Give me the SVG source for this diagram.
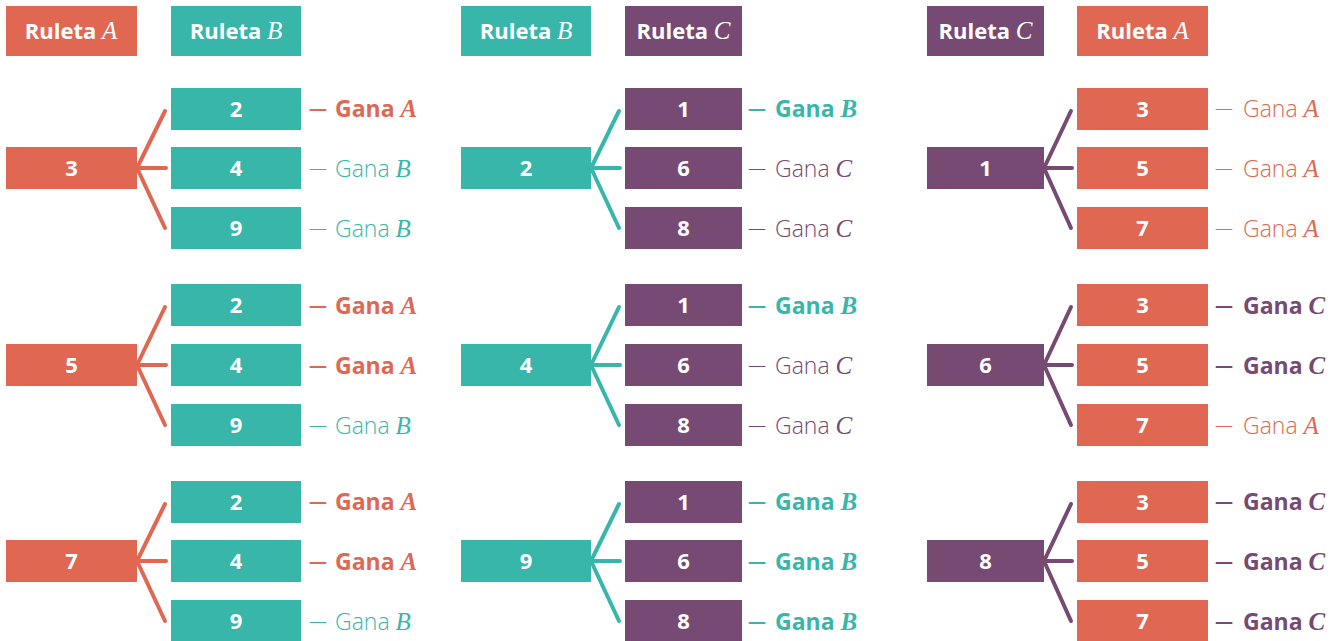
<svg xmlns="http://www.w3.org/2000/svg" width="1343" height="641" viewBox="0 0 1343 641">
<style>
.o{fill:#E06853}.t{fill:#38B6AA}.p{fill:#774A73}
.bx text,.hd text{fill:#fff;font-family:"Open Sans",Lato,sans-serif;font-weight:700;font-size:22px;text-anchor:middle}
.hd tspan.i{font-family:"Liberation Serif",serif;font-style:italic;font-weight:400;font-size:25px}
.lb{font-family:"Open Sans",Lato,sans-serif;font-size:23px}
.lb.b{font-weight:700}.lb.l{font-weight:300}
.lb tspan.d{font-size:18px}
.lb tspan.i{font-family:"Liberation Serif",serif;font-style:italic;font-size:25px}
.lb.l tspan.i{font-weight:400}.lb.b tspan.i{font-weight:700}
.lo{fill:#E06853}.lt{fill:#38B6AA}.lp{fill:#774A73}
.f line{stroke-width:4;stroke-linecap:round;fill:none}
.fo line{stroke:#E06853}.ft line{stroke:#38B6AA}.fp line{stroke:#774A73}
</style>
<g id="headers" class="hd">
<g id="h-p1-a"><rect class="o" x="6" y="6" width="131" height="50"/><text x="71" y="39">Ruleta <tspan class="i">A</tspan></text></g>
<g id="h-p1-b"><rect class="t" x="171" y="6" width="130" height="50"/><text x="236" y="39">Ruleta <tspan class="i">B</tspan></text></g>
<g id="h-p2-b"><rect class="t" x="461" y="6" width="130" height="50"/><text x="526" y="39">Ruleta <tspan class="i">B</tspan></text></g>
<g id="h-p2-c"><rect class="p" x="625" y="6" width="117" height="50"/><text x="683.5" y="39">Ruleta <tspan class="i">C</tspan></text></g>
<g id="h-p3-c"><rect class="p" x="927" y="6" width="117" height="50"/><text x="985.5" y="39">Ruleta <tspan class="i">C</tspan></text></g>
<g id="h-p3-a"><rect class="o" x="1077" y="6" width="131" height="50"/><text x="1142.5" y="39">Ruleta <tspan class="i">A</tspan></text></g>
</g>
<g id="connectors" class="f">
<g class="fo">
<line x1="137" y1="168" x2="165" y2="111"/><line x1="137" y1="168" x2="166" y2="168"/><line x1="137" y1="168" x2="165" y2="228"/>
<line x1="137" y1="365" x2="165" y2="307"/><line x1="137" y1="365" x2="166" y2="365"/><line x1="137" y1="365" x2="165" y2="425"/>
<line x1="137" y1="561" x2="165" y2="504"/><line x1="137" y1="561" x2="166" y2="561"/><line x1="137" y1="561" x2="165" y2="621"/>
</g>
<g class="ft">
<line x1="591" y1="168" x2="619" y2="111"/><line x1="591" y1="168" x2="620" y2="168"/><line x1="591" y1="168" x2="619" y2="228"/>
<line x1="591" y1="365" x2="619" y2="307"/><line x1="591" y1="365" x2="620" y2="365"/><line x1="591" y1="365" x2="619" y2="425"/>
<line x1="591" y1="561" x2="619" y2="504"/><line x1="591" y1="561" x2="620" y2="561"/><line x1="591" y1="561" x2="619" y2="621"/>
</g>
<g class="fp">
<line x1="1044" y1="168" x2="1071" y2="111"/><line x1="1044" y1="168" x2="1072" y2="168"/><line x1="1044" y1="168" x2="1071" y2="228"/>
<line x1="1044" y1="365" x2="1071" y2="307"/><line x1="1044" y1="365" x2="1072" y2="365"/><line x1="1044" y1="365" x2="1071" y2="425"/>
<line x1="1044" y1="561" x2="1071" y2="504"/><line x1="1044" y1="561" x2="1072" y2="561"/><line x1="1044" y1="561" x2="1071" y2="621"/>
</g>
</g>
<g id="panel1" class="bx">
<g id="p1-a3"><rect class="o" x="6" y="147" width="131" height="42"/><text x="71.5" y="176">3</text></g>
<g id="p1-a3-b2"><rect class="t" x="171" y="88" width="130" height="42"/><text x="236" y="117">2</text></g>
<g id="p1-a3-b4"><rect class="t" x="171" y="147" width="130" height="42"/><text x="236" y="176">4</text></g>
<g id="p1-a3-b9"><rect class="t" x="171" y="207" width="130" height="42"/><text x="236" y="236">9</text></g>
<g id="p1-a5"><rect class="o" x="6" y="344" width="131" height="42"/><text x="71.5" y="373">5</text></g>
<g id="p1-a5-b2"><rect class="t" x="171" y="284" width="130" height="42"/><text x="236" y="313">2</text></g>
<g id="p1-a5-b4"><rect class="t" x="171" y="344" width="130" height="42"/><text x="236" y="373">4</text></g>
<g id="p1-a5-b9"><rect class="t" x="171" y="404" width="130" height="42"/><text x="236" y="433">9</text></g>
<g id="p1-a7"><rect class="o" x="6" y="540" width="131" height="42"/><text x="71.5" y="569">7</text></g>
<g id="p1-a7-b2"><rect class="t" x="171" y="481" width="130" height="42"/><text x="236" y="510">2</text></g>
<g id="p1-a7-b4"><rect class="t" x="171" y="540" width="130" height="42"/><text x="236" y="569">4</text></g>
<g id="p1-a7-b9"><rect class="t" x="171" y="600" width="130" height="42"/><text x="236" y="629">9</text></g>
</g>
<g id="panel2" class="bx">
<g id="p2-b2"><rect class="t" x="461" y="147" width="130" height="42"/><text x="526" y="176">2</text></g>
<g id="p2-b2-c1"><rect class="p" x="625" y="88" width="117" height="42"/><text x="683.5" y="117">1</text></g>
<g id="p2-b2-c6"><rect class="p" x="625" y="147" width="117" height="42"/><text x="683.5" y="176">6</text></g>
<g id="p2-b2-c8"><rect class="p" x="625" y="207" width="117" height="42"/><text x="683.5" y="236">8</text></g>
<g id="p2-b4"><rect class="t" x="461" y="344" width="130" height="42"/><text x="526" y="373">4</text></g>
<g id="p2-b4-c1"><rect class="p" x="625" y="284" width="117" height="42"/><text x="683.5" y="313">1</text></g>
<g id="p2-b4-c6"><rect class="p" x="625" y="344" width="117" height="42"/><text x="683.5" y="373">6</text></g>
<g id="p2-b4-c8"><rect class="p" x="625" y="404" width="117" height="42"/><text x="683.5" y="433">8</text></g>
<g id="p2-b9"><rect class="t" x="461" y="540" width="130" height="42"/><text x="526" y="569">9</text></g>
<g id="p2-b9-c1"><rect class="p" x="625" y="481" width="117" height="42"/><text x="683.5" y="510">1</text></g>
<g id="p2-b9-c6"><rect class="p" x="625" y="540" width="117" height="42"/><text x="683.5" y="569">6</text></g>
<g id="p2-b9-c8"><rect class="p" x="625" y="600" width="117" height="42"/><text x="683.5" y="629">8</text></g>
</g>
<g id="panel3" class="bx">
<g id="p3-c1"><rect class="p" x="927" y="147" width="117" height="42"/><text x="985.5" y="176">1</text></g>
<g id="p3-c1-a3"><rect class="o" x="1077" y="88" width="131" height="42"/><text x="1142.5" y="117">3</text></g>
<g id="p3-c1-a5"><rect class="o" x="1077" y="147" width="131" height="42"/><text x="1142.5" y="176">5</text></g>
<g id="p3-c1-a7"><rect class="o" x="1077" y="207" width="131" height="42"/><text x="1142.5" y="236">7</text></g>
<g id="p3-c6"><rect class="p" x="927" y="344" width="117" height="42"/><text x="985.5" y="373">6</text></g>
<g id="p3-c6-a3"><rect class="o" x="1077" y="284" width="131" height="42"/><text x="1142.5" y="313">3</text></g>
<g id="p3-c6-a5"><rect class="o" x="1077" y="344" width="131" height="42"/><text x="1142.5" y="373">5</text></g>
<g id="p3-c6-a7"><rect class="o" x="1077" y="404" width="131" height="42"/><text x="1142.5" y="433">7</text></g>
<g id="p3-c8"><rect class="p" x="927" y="540" width="117" height="42"/><text x="985.5" y="569">8</text></g>
<g id="p3-c8-a3"><rect class="o" x="1077" y="481" width="131" height="42"/><text x="1142.5" y="510">3</text></g>
<g id="p3-c8-a5"><rect class="o" x="1077" y="540" width="131" height="42"/><text x="1142.5" y="569">5</text></g>
<g id="p3-c8-a7"><rect class="o" x="1077" y="600" width="131" height="42"/><text x="1142.5" y="629">7</text></g>
</g>
<g id="labels">
<text class="lb b lo" x="309" y="117"><tspan class="d" dy="-2">—</tspan><tspan x="335" dy="2">Gana </tspan><tspan class="i">A</tspan></text>
<text class="lb l lt" x="309" y="177"><tspan class="d" dy="-2">—</tspan><tspan x="335" dy="2">Gana </tspan><tspan class="i">B</tspan></text>
<text class="lb l lt" x="309" y="237"><tspan class="d" dy="-2">—</tspan><tspan x="335" dy="2">Gana </tspan><tspan class="i">B</tspan></text>
<text class="lb b lo" x="309" y="314"><tspan class="d" dy="-2">—</tspan><tspan x="335" dy="2">Gana </tspan><tspan class="i">A</tspan></text>
<text class="lb b lo" x="309" y="374"><tspan class="d" dy="-2">—</tspan><tspan x="335" dy="2">Gana </tspan><tspan class="i">A</tspan></text>
<text class="lb l lt" x="309" y="434"><tspan class="d" dy="-2">—</tspan><tspan x="335" dy="2">Gana </tspan><tspan class="i">B</tspan></text>
<text class="lb b lo" x="309" y="510"><tspan class="d" dy="-2">—</tspan><tspan x="335" dy="2">Gana </tspan><tspan class="i">A</tspan></text>
<text class="lb b lo" x="309" y="570"><tspan class="d" dy="-2">—</tspan><tspan x="335" dy="2">Gana </tspan><tspan class="i">A</tspan></text>
<text class="lb l lt" x="309" y="630"><tspan class="d" dy="-2">—</tspan><tspan x="335" dy="2">Gana </tspan><tspan class="i">B</tspan></text>
<text class="lb b lt" x="748" y="117"><tspan class="d" dy="-2">—</tspan><tspan x="775" dy="2">Gana </tspan><tspan class="i">B</tspan></text>
<text class="lb l lp" x="748" y="177"><tspan class="d" dy="-2">—</tspan><tspan x="775" dy="2">Gana </tspan><tspan class="i">C</tspan></text>
<text class="lb l lp" x="748" y="237"><tspan class="d" dy="-2">—</tspan><tspan x="775" dy="2">Gana </tspan><tspan class="i">C</tspan></text>
<text class="lb b lt" x="748" y="314"><tspan class="d" dy="-2">—</tspan><tspan x="775" dy="2">Gana </tspan><tspan class="i">B</tspan></text>
<text class="lb l lp" x="748" y="374"><tspan class="d" dy="-2">—</tspan><tspan x="775" dy="2">Gana </tspan><tspan class="i">C</tspan></text>
<text class="lb l lp" x="748" y="434"><tspan class="d" dy="-2">—</tspan><tspan x="775" dy="2">Gana </tspan><tspan class="i">C</tspan></text>
<text class="lb b lt" x="748" y="510"><tspan class="d" dy="-2">—</tspan><tspan x="775" dy="2">Gana </tspan><tspan class="i">B</tspan></text>
<text class="lb b lt" x="748" y="570"><tspan class="d" dy="-2">—</tspan><tspan x="775" dy="2">Gana </tspan><tspan class="i">B</tspan></text>
<text class="lb b lt" x="748" y="630"><tspan class="d" dy="-2">—</tspan><tspan x="775" dy="2">Gana </tspan><tspan class="i">B</tspan></text>
<text class="lb l lo" x="1215" y="117"><tspan class="d" dy="-2">—</tspan><tspan x="1243" dy="2">Gana </tspan><tspan class="i">A</tspan></text>
<text class="lb l lo" x="1215" y="177"><tspan class="d" dy="-2">—</tspan><tspan x="1243" dy="2">Gana </tspan><tspan class="i">A</tspan></text>
<text class="lb l lo" x="1215" y="237"><tspan class="d" dy="-2">—</tspan><tspan x="1243" dy="2">Gana </tspan><tspan class="i">A</tspan></text>
<text class="lb b lp" x="1215" y="314"><tspan class="d" dy="-2">—</tspan><tspan x="1243" dy="2">Gana </tspan><tspan class="i">C</tspan></text>
<text class="lb b lp" x="1215" y="374"><tspan class="d" dy="-2">—</tspan><tspan x="1243" dy="2">Gana </tspan><tspan class="i">C</tspan></text>
<text class="lb l lo" x="1215" y="434"><tspan class="d" dy="-2">—</tspan><tspan x="1243" dy="2">Gana </tspan><tspan class="i">A</tspan></text>
<text class="lb b lp" x="1215" y="510"><tspan class="d" dy="-2">—</tspan><tspan x="1243" dy="2">Gana </tspan><tspan class="i">C</tspan></text>
<text class="lb b lp" x="1215" y="570"><tspan class="d" dy="-2">—</tspan><tspan x="1243" dy="2">Gana </tspan><tspan class="i">C</tspan></text>
<text class="lb b lp" x="1215" y="630"><tspan class="d" dy="-2">—</tspan><tspan x="1243" dy="2">Gana </tspan><tspan class="i">C</tspan></text>
</g>
</svg>
